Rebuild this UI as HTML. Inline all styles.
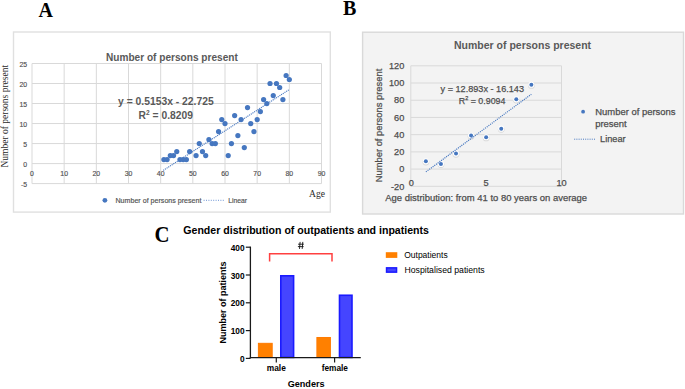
<!DOCTYPE html>
<html><head><meta charset="utf-8"><style>
html,body{margin:0;padding:0;background:#fff;}
body{width:685px;height:389px;overflow:hidden;font-family:"Liberation Sans",sans-serif;}
svg{display:block;}
</style></head><body>
<svg width="685" height="389" viewBox="0 0 685 389">
<defs><filter id="blur" x="-50%" y="-50%" width="200%" height="200%"><feGaussianBlur stdDeviation="0.7"/></filter></defs>
<text x="38.5" y="17" font-family="Liberation Serif" font-size="20" font-weight="bold" fill="#000" text-anchor="start" >A</text>
<text x="343" y="14.8" font-family="Liberation Serif" font-size="20" font-weight="bold" fill="#000" text-anchor="start" >B</text>
<text transform="translate(154.4,241.6) scale(0.92,1)" font-family="Liberation Serif" font-size="22.6" font-weight="bold" fill="#000">C</text>
<rect x="13.5" y="32.0" width="316.8" height="180.1" fill="#fff" stroke="#e0e0e0" stroke-width="1.4"/>
<line x1="32.0" y1="183.60" x2="321.5" y2="183.60" stroke="#d9d9d9" stroke-width="1"/>
<line x1="32.0" y1="163.58" x2="321.5" y2="163.58" stroke="#d9d9d9" stroke-width="1"/>
<line x1="32.0" y1="143.57" x2="321.5" y2="143.57" stroke="#d9d9d9" stroke-width="1"/>
<line x1="32.0" y1="123.55" x2="321.5" y2="123.55" stroke="#d9d9d9" stroke-width="1"/>
<line x1="32.0" y1="103.53" x2="321.5" y2="103.53" stroke="#d9d9d9" stroke-width="1"/>
<line x1="32.0" y1="83.52" x2="321.5" y2="83.52" stroke="#d9d9d9" stroke-width="1"/>
<line x1="32.0" y1="63.50" x2="321.5" y2="63.50" stroke="#d9d9d9" stroke-width="1"/>
<line x1="32.00" y1="63.5" x2="32.00" y2="183.6" stroke="#d9d9d9" stroke-width="1"/>
<line x1="64.17" y1="63.5" x2="64.17" y2="183.6" stroke="#d9d9d9" stroke-width="1"/>
<line x1="96.33" y1="63.5" x2="96.33" y2="183.6" stroke="#d9d9d9" stroke-width="1"/>
<line x1="128.50" y1="63.5" x2="128.50" y2="183.6" stroke="#d9d9d9" stroke-width="1"/>
<line x1="160.67" y1="63.5" x2="160.67" y2="183.6" stroke="#d9d9d9" stroke-width="1"/>
<line x1="192.83" y1="63.5" x2="192.83" y2="183.6" stroke="#d9d9d9" stroke-width="1"/>
<line x1="225.00" y1="63.5" x2="225.00" y2="183.6" stroke="#d9d9d9" stroke-width="1"/>
<line x1="257.17" y1="63.5" x2="257.17" y2="183.6" stroke="#d9d9d9" stroke-width="1"/>
<line x1="289.33" y1="63.5" x2="289.33" y2="183.6" stroke="#d9d9d9" stroke-width="1"/>
<line x1="321.50" y1="63.5" x2="321.50" y2="183.6" stroke="#d9d9d9" stroke-width="1"/>
<text x="27.2" y="186.6" font-family="Liberation Sans" font-size="6.9" font-weight="normal" fill="#505050" text-anchor="end" stroke="#505050" stroke-width="0.15">-5</text>
<text x="27.2" y="166.58333333333331" font-family="Liberation Sans" font-size="6.9" font-weight="normal" fill="#505050" text-anchor="end" stroke="#505050" stroke-width="0.15">0</text>
<text x="27.2" y="146.56666666666666" font-family="Liberation Sans" font-size="6.9" font-weight="normal" fill="#505050" text-anchor="end" stroke="#505050" stroke-width="0.15">5</text>
<text x="27.2" y="126.55" font-family="Liberation Sans" font-size="6.9" font-weight="normal" fill="#505050" text-anchor="end" stroke="#505050" stroke-width="0.15">10</text>
<text x="27.2" y="106.53333333333333" font-family="Liberation Sans" font-size="6.9" font-weight="normal" fill="#505050" text-anchor="end" stroke="#505050" stroke-width="0.15">15</text>
<text x="27.2" y="86.51666666666667" font-family="Liberation Sans" font-size="6.9" font-weight="normal" fill="#505050" text-anchor="end" stroke="#505050" stroke-width="0.15">20</text>
<text x="27.2" y="66.5" font-family="Liberation Sans" font-size="6.9" font-weight="normal" fill="#505050" text-anchor="end" stroke="#505050" stroke-width="0.15">25</text>
<text x="32.0" y="175.9" font-family="Liberation Sans" font-size="6.9" font-weight="normal" fill="#505050" text-anchor="middle" stroke="#505050" stroke-width="0.15">0</text>
<text x="64.16666666666666" y="175.9" font-family="Liberation Sans" font-size="6.9" font-weight="normal" fill="#505050" text-anchor="middle" stroke="#505050" stroke-width="0.15">10</text>
<text x="96.33333333333333" y="175.9" font-family="Liberation Sans" font-size="6.9" font-weight="normal" fill="#505050" text-anchor="middle" stroke="#505050" stroke-width="0.15">20</text>
<text x="128.5" y="175.9" font-family="Liberation Sans" font-size="6.9" font-weight="normal" fill="#505050" text-anchor="middle" stroke="#505050" stroke-width="0.15">30</text>
<text x="160.66666666666666" y="175.9" font-family="Liberation Sans" font-size="6.9" font-weight="normal" fill="#505050" text-anchor="middle" stroke="#505050" stroke-width="0.15">40</text>
<text x="192.83333333333334" y="175.9" font-family="Liberation Sans" font-size="6.9" font-weight="normal" fill="#505050" text-anchor="middle" stroke="#505050" stroke-width="0.15">50</text>
<text x="225.0" y="175.9" font-family="Liberation Sans" font-size="6.9" font-weight="normal" fill="#505050" text-anchor="middle" stroke="#505050" stroke-width="0.15">60</text>
<text x="257.16666666666663" y="175.9" font-family="Liberation Sans" font-size="6.9" font-weight="normal" fill="#505050" text-anchor="middle" stroke="#505050" stroke-width="0.15">70</text>
<text x="289.3333333333333" y="175.9" font-family="Liberation Sans" font-size="6.9" font-weight="normal" fill="#505050" text-anchor="middle" stroke="#505050" stroke-width="0.15">80</text>
<text x="321.5" y="175.9" font-family="Liberation Sans" font-size="6.9" font-weight="normal" fill="#505050" text-anchor="middle" stroke="#505050" stroke-width="0.15">90</text>
<circle cx="163.88" cy="159.58" r="2.6" fill="#4677c0"/>
<circle cx="167.10" cy="159.58" r="2.6" fill="#4677c0"/>
<circle cx="170.32" cy="155.58" r="2.6" fill="#4677c0"/>
<circle cx="173.53" cy="155.58" r="2.6" fill="#4677c0"/>
<circle cx="176.75" cy="151.57" r="2.6" fill="#4677c0"/>
<circle cx="179.97" cy="159.58" r="2.6" fill="#4677c0"/>
<circle cx="183.18" cy="159.58" r="2.6" fill="#4677c0"/>
<circle cx="186.40" cy="159.58" r="2.6" fill="#4677c0"/>
<circle cx="189.62" cy="151.57" r="2.6" fill="#4677c0"/>
<circle cx="196.05" cy="155.58" r="2.6" fill="#4677c0"/>
<circle cx="199.27" cy="143.57" r="2.6" fill="#4677c0"/>
<circle cx="202.48" cy="151.57" r="2.6" fill="#4677c0"/>
<circle cx="205.70" cy="155.58" r="2.6" fill="#4677c0"/>
<circle cx="208.92" cy="139.56" r="2.6" fill="#4677c0"/>
<circle cx="212.13" cy="143.57" r="2.6" fill="#4677c0"/>
<circle cx="215.35" cy="143.57" r="2.6" fill="#4677c0"/>
<circle cx="218.57" cy="131.56" r="2.6" fill="#4677c0"/>
<circle cx="221.78" cy="119.55" r="2.6" fill="#4677c0"/>
<circle cx="225.00" cy="123.55" r="2.6" fill="#4677c0"/>
<circle cx="228.22" cy="155.58" r="2.6" fill="#4677c0"/>
<circle cx="231.43" cy="143.57" r="2.6" fill="#4677c0"/>
<circle cx="234.65" cy="115.54" r="2.6" fill="#4677c0"/>
<circle cx="237.87" cy="135.56" r="2.6" fill="#4677c0"/>
<circle cx="241.08" cy="119.55" r="2.6" fill="#4677c0"/>
<circle cx="244.30" cy="147.57" r="2.6" fill="#4677c0"/>
<circle cx="247.52" cy="107.54" r="2.6" fill="#4677c0"/>
<circle cx="250.73" cy="123.55" r="2.6" fill="#4677c0"/>
<circle cx="253.95" cy="131.56" r="2.6" fill="#4677c0"/>
<circle cx="257.17" cy="119.55" r="2.6" fill="#4677c0"/>
<circle cx="260.38" cy="111.54" r="2.6" fill="#4677c0"/>
<circle cx="263.60" cy="99.53" r="2.6" fill="#4677c0"/>
<circle cx="266.82" cy="103.53" r="2.6" fill="#4677c0"/>
<circle cx="270.03" cy="83.52" r="2.6" fill="#4677c0"/>
<circle cx="273.25" cy="95.53" r="2.6" fill="#4677c0"/>
<circle cx="276.47" cy="83.52" r="2.6" fill="#4677c0"/>
<circle cx="279.68" cy="87.52" r="2.6" fill="#4677c0"/>
<circle cx="282.90" cy="99.53" r="2.6" fill="#4677c0"/>
<circle cx="286.12" cy="75.51" r="2.6" fill="#4677c0"/>
<circle cx="289.33" cy="79.51" r="2.6" fill="#4677c0"/>
<line x1="163.28" y1="170.39" x2="289.33" y2="89.53" stroke="#4677c0" stroke-width="1.15" stroke-dasharray="1.1 0.9"/>
<text x="106" y="60.5" font-family="Liberation Sans" font-size="10.1" font-weight="bold" fill="#595959" text-anchor="start" >Number of persons present</text>
<text x="118.1" y="104.9" font-family="Liberation Sans" font-size="10.2" font-weight="bold" fill="#595959" text-anchor="start" textLength="95.6" lengthAdjust="spacingAndGlyphs">y = 0.5153x - 22.725</text>
<text x="138.6" y="118.7" font-family="Liberation Sans" font-size="10.2" font-weight="bold" fill="#595959" text-anchor="start" textLength="54.3" lengthAdjust="spacingAndGlyphs">R<tspan font-size="6.5" dy="-3.5">2</tspan><tspan dy="3.5"> = 0.8209</tspan></text>
<circle cx="104.9" cy="200.3" r="2.4" fill="#4677c0"/>
<text x="115.5" y="202.7" font-family="Liberation Sans" font-size="7.1" font-weight="normal" fill="#505050" text-anchor="start" stroke="#505050" stroke-width="0.15">Number of persons present</text>
<line x1="203.6" y1="200.3" x2="225.2" y2="200.3" stroke="#6b93d4" stroke-width="1" stroke-dasharray="1 1.4"/>
<text x="228.2" y="202.7" font-family="Liberation Sans" font-size="6.8" font-weight="normal" fill="#505050" text-anchor="start" stroke="#505050" stroke-width="0.15">Linear</text>
<text x="309" y="196.9" font-family="Liberation Serif" font-size="9.6" font-weight="normal" fill="#2a2a2a" text-anchor="start" >Age</text>
<text transform="translate(8.3,167.5) rotate(-90)" font-family="Liberation Serif" font-size="9.5" fill="#2a2a2a">Number of persons present</text>
<rect x="362.6" y="32.2" width="320.9" height="181.8" fill="#f3f3f3" stroke="#d9d9d9" stroke-width="1.4"/>
<line x1="410.8" y1="186.30" x2="561.5" y2="186.30" stroke="#d9d9d9" stroke-width="1"/>
<line x1="410.8" y1="169.09" x2="561.5" y2="169.09" stroke="#d9d9d9" stroke-width="1"/>
<line x1="410.8" y1="151.87" x2="561.5" y2="151.87" stroke="#d9d9d9" stroke-width="1"/>
<line x1="410.8" y1="134.66" x2="561.5" y2="134.66" stroke="#d9d9d9" stroke-width="1"/>
<line x1="410.8" y1="117.44" x2="561.5" y2="117.44" stroke="#d9d9d9" stroke-width="1"/>
<line x1="410.8" y1="100.23" x2="561.5" y2="100.23" stroke="#d9d9d9" stroke-width="1"/>
<line x1="410.8" y1="83.01" x2="561.5" y2="83.01" stroke="#d9d9d9" stroke-width="1"/>
<line x1="410.8" y1="65.80" x2="561.5" y2="65.80" stroke="#d9d9d9" stroke-width="1"/>
<line x1="410.8" y1="65.8" x2="410.8" y2="186.3" stroke="#d9d9d9" stroke-width="1"/>
<line x1="561.5" y1="65.8" x2="561.5" y2="186.3" stroke="#d9d9d9" stroke-width="1"/>
<text x="404.3" y="189.5" font-family="Liberation Sans" font-size="9.2" font-weight="normal" fill="#4d4d4d" text-anchor="end" stroke="#4d4d4d" stroke-width="0.25">-20</text>
<text x="404.3" y="172.28571428571428" font-family="Liberation Sans" font-size="9.2" font-weight="normal" fill="#4d4d4d" text-anchor="end" stroke="#4d4d4d" stroke-width="0.25">0</text>
<text x="404.3" y="155.07142857142856" font-family="Liberation Sans" font-size="9.2" font-weight="normal" fill="#4d4d4d" text-anchor="end" stroke="#4d4d4d" stroke-width="0.25">20</text>
<text x="404.3" y="137.85714285714286" font-family="Liberation Sans" font-size="9.2" font-weight="normal" fill="#4d4d4d" text-anchor="end" stroke="#4d4d4d" stroke-width="0.25">40</text>
<text x="404.3" y="120.64285714285715" font-family="Liberation Sans" font-size="9.2" font-weight="normal" fill="#4d4d4d" text-anchor="end" stroke="#4d4d4d" stroke-width="0.25">60</text>
<text x="404.3" y="103.42857142857143" font-family="Liberation Sans" font-size="9.2" font-weight="normal" fill="#4d4d4d" text-anchor="end" stroke="#4d4d4d" stroke-width="0.25">80</text>
<text x="404.3" y="86.21428571428572" font-family="Liberation Sans" font-size="9.2" font-weight="normal" fill="#4d4d4d" text-anchor="end" stroke="#4d4d4d" stroke-width="0.25">100</text>
<text x="404.3" y="69.0" font-family="Liberation Sans" font-size="9.2" font-weight="normal" fill="#4d4d4d" text-anchor="end" stroke="#4d4d4d" stroke-width="0.25">120</text>
<text x="411.3" y="185.6" font-family="Liberation Sans" font-size="9.2" font-weight="normal" fill="#4d4d4d" text-anchor="middle" stroke="#4d4d4d" stroke-width="0.25">0</text>
<text x="486.15" y="185.6" font-family="Liberation Sans" font-size="9.2" font-weight="normal" fill="#4d4d4d" text-anchor="middle" stroke="#4d4d4d" stroke-width="0.25">5</text>
<text x="561.5" y="185.6" font-family="Liberation Sans" font-size="9.2" font-weight="normal" fill="#4d4d4d" text-anchor="middle" stroke="#4d4d4d" stroke-width="0.25">10</text>
<circle cx="425.87" cy="162.04" r="3.4" fill="#d8d8d8" filter="url(#blur)"/>
<circle cx="425.87" cy="161.34" r="3.1" fill="#fff"/>
<circle cx="425.87" cy="161.34" r="2.0" fill="#4677c0"/>
<circle cx="440.94" cy="164.62" r="3.4" fill="#d8d8d8" filter="url(#blur)"/>
<circle cx="440.94" cy="163.92" r="3.1" fill="#fff"/>
<circle cx="440.94" cy="163.92" r="2.0" fill="#4677c0"/>
<circle cx="456.01" cy="154.29" r="3.4" fill="#d8d8d8" filter="url(#blur)"/>
<circle cx="456.01" cy="153.59" r="3.1" fill="#fff"/>
<circle cx="456.01" cy="153.59" r="2.0" fill="#4677c0"/>
<circle cx="471.08" cy="136.22" r="3.4" fill="#d8d8d8" filter="url(#blur)"/>
<circle cx="471.08" cy="135.52" r="3.1" fill="#fff"/>
<circle cx="471.08" cy="135.52" r="2.0" fill="#4677c0"/>
<circle cx="486.15" cy="137.94" r="3.4" fill="#d8d8d8" filter="url(#blur)"/>
<circle cx="486.15" cy="137.24" r="3.1" fill="#fff"/>
<circle cx="486.15" cy="137.24" r="2.0" fill="#4677c0"/>
<circle cx="501.22" cy="129.33" r="3.4" fill="#d8d8d8" filter="url(#blur)"/>
<circle cx="501.22" cy="128.63" r="3.1" fill="#fff"/>
<circle cx="501.22" cy="128.63" r="2.0" fill="#4677c0"/>
<circle cx="516.29" cy="100.07" r="3.4" fill="#d8d8d8" filter="url(#blur)"/>
<circle cx="516.29" cy="99.37" r="3.1" fill="#fff"/>
<circle cx="516.29" cy="99.37" r="2.0" fill="#4677c0"/>
<circle cx="531.36" cy="85.44" r="3.4" fill="#d8d8d8" filter="url(#blur)"/>
<circle cx="531.36" cy="84.74" r="3.1" fill="#fff"/>
<circle cx="531.36" cy="84.74" r="2.0" fill="#4677c0"/>
<line x1="425.87" y1="171.88" x2="531.36" y2="94.20" stroke="#4677c0" stroke-width="1.2" stroke-dasharray="1.1 1"/>
<text x="454" y="49.3" font-family="Liberation Sans" font-size="10.5" font-weight="bold" fill="#595959" text-anchor="start" >Number of persons present</text>
<text x="440.6" y="91.7" font-family="Liberation Sans" font-size="9.9" font-weight="normal" fill="#4d4d4d" text-anchor="start" stroke="#4d4d4d" stroke-width="0.25" textLength="83.4" lengthAdjust="spacingAndGlyphs">y = 12.893x - 16.143</text>
<text x="458.8" y="103.8" font-family="Liberation Sans" font-size="9.6" font-weight="normal" fill="#4d4d4d" text-anchor="start" stroke="#4d4d4d" stroke-width="0.25" textLength="46.6" lengthAdjust="spacingAndGlyphs">R<tspan font-size="6.0" dy="-3.4">2</tspan><tspan dy="3.4"> = 0.9094</tspan></text>
<text x="385.3" y="200.8" font-family="Liberation Sans" font-size="9.75" font-weight="normal" fill="#4d4d4d" text-anchor="start" stroke="#4d4d4d" stroke-width="0.25" textLength="201.8" lengthAdjust="spacingAndGlyphs">Age distribution: from 41 to 80 years on average</text>
<text transform="translate(382.3,182.3) rotate(-90)" font-family="Liberation Sans" font-size="9.4" fill="#4d4d4d" stroke="#4d4d4d" stroke-width="0.25">Number of persons present</text>
<circle cx="583.1" cy="111.7" r="1.9" fill="#4677c0"/>
<text x="595.2" y="115" font-family="Liberation Sans" font-size="9.46" font-weight="normal" fill="#4d4d4d" text-anchor="start" stroke="#4d4d4d" stroke-width="0.25">Number of persons</text>
<text x="595.2" y="127.1" font-family="Liberation Sans" font-size="9.46" font-weight="normal" fill="#4d4d4d" text-anchor="start" stroke="#4d4d4d" stroke-width="0.25">present</text>
<line x1="574.2" y1="139.2" x2="595.8" y2="139.2" stroke="#4677c0" stroke-width="1" stroke-dasharray="1 1.2"/>
<text x="600.1" y="142.4" font-family="Liberation Sans" font-size="9.2" font-weight="normal" fill="#4d4d4d" text-anchor="start" stroke="#4d4d4d" stroke-width="0.25">Linear</text>
<text x="183.3" y="233.8" font-family="Liberation Sans" font-size="10.58" font-weight="bold" fill="#000" text-anchor="start" >Gender distribution of outpatients and inpatients</text>
<rect x="258.40" y="343.33" width="13.80" height="14.07" fill="#ff8000" stroke="#ff7a00" stroke-width="1.0"/>
<rect x="280.80" y="275.80" width="12.80" height="81.60" fill="#4545ff" stroke="#1a1aff" stroke-width="1.6"/>
<rect x="316.90" y="337.49" width="13.50" height="19.91" fill="#ff8000" stroke="#ff7a00" stroke-width="1.0"/>
<rect x="339.50" y="295.26" width="12.50" height="62.14" fill="#4545ff" stroke="#1a1aff" stroke-width="1.6"/>
<line x1="250.4" y1="246.6" x2="250.4" y2="358.29999999999995" stroke="#1a1a1a" stroke-width="1.3"/>
<line x1="249.75" y1="357.6" x2="360.8" y2="357.6" stroke="#1a1a1a" stroke-width="1.3"/>
<line x1="245.8" y1="358.40" x2="250.4" y2="358.40" stroke="#1a1a1a" stroke-width="1.2"/>
<text x="244.5" y="361.9" font-family="Liberation Sans" font-size="8.3" font-weight="bold" fill="#000" text-anchor="end" >0</text>
<line x1="245.8" y1="330.60" x2="250.4" y2="330.60" stroke="#1a1a1a" stroke-width="1.2"/>
<text x="244.5" y="334.09999999999997" font-family="Liberation Sans" font-size="8.3" font-weight="bold" fill="#000" text-anchor="end" >100</text>
<line x1="245.8" y1="302.80" x2="250.4" y2="302.80" stroke="#1a1a1a" stroke-width="1.2"/>
<text x="244.5" y="306.29999999999995" font-family="Liberation Sans" font-size="8.3" font-weight="bold" fill="#000" text-anchor="end" >200</text>
<line x1="245.8" y1="275.00" x2="250.4" y2="275.00" stroke="#1a1a1a" stroke-width="1.2"/>
<text x="244.5" y="278.5" font-family="Liberation Sans" font-size="8.3" font-weight="bold" fill="#000" text-anchor="end" >300</text>
<line x1="245.8" y1="247.20" x2="250.4" y2="247.20" stroke="#1a1a1a" stroke-width="1.2"/>
<text x="244.5" y="250.7" font-family="Liberation Sans" font-size="8.3" font-weight="bold" fill="#000" text-anchor="end" >400</text>
<line x1="276.3" y1="357.6" x2="276.3" y2="362.4" stroke="#1a1a1a" stroke-width="1.2"/>
<line x1="334.6" y1="357.6" x2="334.6" y2="362.4" stroke="#1a1a1a" stroke-width="1.2"/>
<text x="276.3" y="371.3" font-family="Liberation Sans" font-size="8.35" font-weight="bold" fill="#000" text-anchor="middle" >male</text>
<text x="334.8" y="371.3" font-family="Liberation Sans" font-size="8.3" font-weight="bold" fill="#000" text-anchor="middle" >female</text>
<text x="306.1" y="387.4" font-family="Liberation Sans" font-size="9.1" font-weight="bold" fill="#000" text-anchor="middle" >Genders</text>
<text transform="translate(225.8,343.6) rotate(-90)" font-family="Liberation Sans" font-size="9" font-weight="bold" fill="#000">Number of patients</text>
<polyline points="269.6,261.6 269.6,253.7 332,253.7 332,261.6" fill="none" stroke="#ff4040" stroke-width="1.5"/>
<path d="M300.1 241.9L299.5 248.9M302.8 241.9L302.2 248.9M298.1 244.2H303.8M297.9 246.6H303.6" stroke="#111" stroke-width="0.9" fill="none"/>
<rect x="385.8" y="252.2" width="11.5" height="5.7" fill="#ff8000"/>
<rect x="386.55" y="267.85" width="10.0" height="4.3" fill="#4545ff" stroke="#1a1aff" stroke-width="1.5"/>
<text x="404.2" y="258" font-family="Liberation Sans" font-size="8.5" font-weight="normal" fill="#000" text-anchor="start" >Outpatients</text>
<text x="404.5" y="273" font-family="Liberation Sans" font-size="8.7" font-weight="normal" fill="#000" text-anchor="start" >Hospitalised patients</text>
</svg>
</body></html>
